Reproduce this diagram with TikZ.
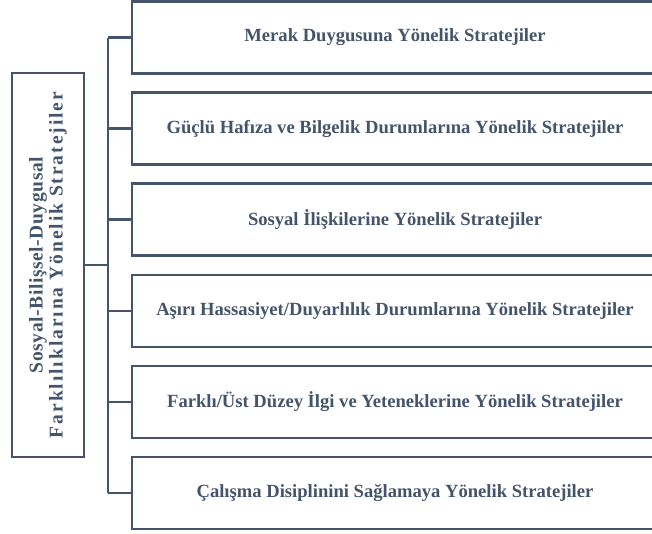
\documentclass[tikz,border=0pt]{standalone}
\usepackage{fontspec}
\setmainfont{Liberation Serif}
\usetikzlibrary{positioning}
\definecolor{slate}{HTML}{44546A}

\begin{document}
\begin{tikzpicture}[x=1pt,y=-1pt,
	box/.style={draw=slate, line width=2.5pt, text=slate, inner sep=0pt, minimum height=72pt, font=\bfseries\fontsize{18.6}{20}\selectfont},
	wire/.style={draw=slate, line width=2.5pt}]
	\useasboundingbox (0,0) rectangle (652,533);
	\clip (0,0) rectangle (652,533);

	\draw (48,265) node[box, rotate=90, minimum width=384pt, align=center, font=\bfseries\fontsize{19.5}{20}\selectfont] (root) {{\addfontfeature{LetterSpace=3}Sosyal-Bilişsel-Duygusal}\\{\addfontfeature{LetterSpace=10}Farklılıklarına Yönelik Stratejiler}};
	\coordinate (hub) at (108,265);
	\draw[wire] (root.south) -- (hub);

	\foreach \i/\txt in {1/{Merak Duygusuna Yönelik Stratejiler},
		2/{Güçlü Hafıza ve Bilgelik Durumlarına Yönelik Stratejiler},
		3/{Sosyal İlişkilerine Yönelik Stratejiler},
		4/{Aşırı Hassasiyet/Duyarlılık Durumlarına Yönelik Stratejiler},
		5/{Farklı/Üst Düzey İlgi ve Yeteneklerine Yönelik Stratejiler},
		6/{Çalışma Disiplinini Sağlamaya Yönelik Stratejiler}}{
		\draw (395, {37.5+91.1*(\i-1)}) node[box, minimum width=526pt] (s\i) {\txt};
		\draw[wire] (hub |- s\i.west) -- (s\i.west);
	}
	\draw[wire] (hub |- s1.west) -- (hub |- s6.west);

\end{tikzpicture}
\end{document}
